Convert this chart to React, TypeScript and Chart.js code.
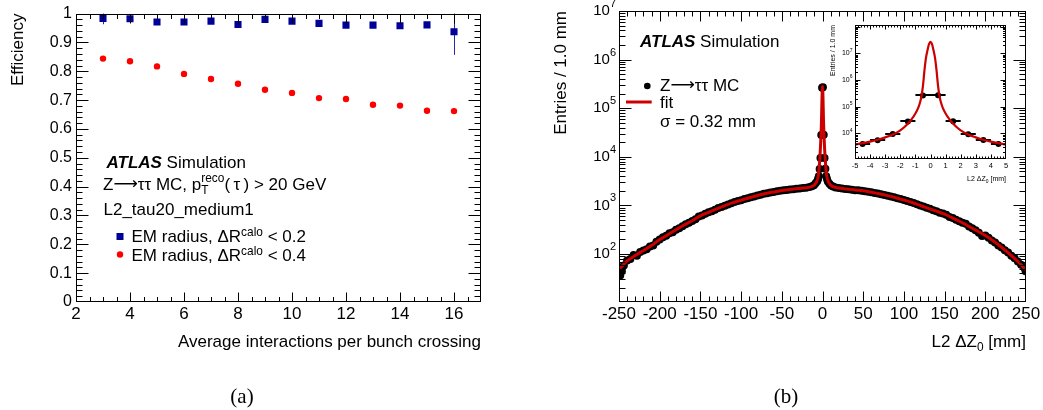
import React, { useEffect, useRef } from 'react';
import { Chart, registerables } from 'chart.js';

Chart.register(...registerables);

const SANS = "'Liberation Sans', Arial, Helvetica, sans-serif";
const ARROWFONT = "'DejaVu Sans', 'Liberation Sans', sans-serif";
const SERIF = "'Liberation Serif', 'Times New Roman', serif";

// ---------------- Panel (a): efficiency vs pile-up ----------------
const muBins = [3, 4, 5, 6, 7, 8, 9, 10, 11, 12, 13, 14, 15, 16];
const effDR02 = [0.983, 0.982, 0.971, 0.971, 0.974, 0.962, 0.980, 0.974, 0.966, 0.960, 0.960, 0.958, 0.961, 0.937];
const errDR02 = [0.02, 0.004, 0.004, 0.004, 0.004, 0.005, 0.004, 0.005, 0.005, 0.006, 0.006, 0.007, 0.008, 0.08];
const effDR04 = [0.844, 0.835, 0.817, 0.791, 0.773, 0.757, 0.736, 0.725, 0.707, 0.704, 0.684, 0.681, 0.663, 0.662];
const errDR04 = [0.004, 0.003, 0.003, 0.003, 0.003, 0.003, 0.003, 0.004, 0.004, 0.004, 0.005, 0.006, 0.007, 0.009];
const muMajorTicks = [2, 4, 6, 8, 10, 12, 14, 16];
const effMajorTicks = [0, 0.1, 0.2, 0.3, 0.4, 0.5, 0.6, 0.7, 0.8, 0.9, 1];

// ---------------- Panel (b): L2 delta Z0 ----------------
const dzX = [
  -249.5, -248.5, -246.5,
  -244, -240, -236, -232, -228, -224, -220, -216, -212, -208,
  -204, -200, -196, -192, -188, -184, -180, -176, -172, -168,
  -164, -160, -156, -152, -148, -144, -140, -136, -132, -128,
  -124, -120, -116, -112, -108, -104, -100, -96, -92, -88,
  -84, -80, -76, -72, -68, -64, -60, -56, -52, -48,
  -44, -40, -36, -32, -28, -24, -20, -16,
  -13, -10.5, -8.5, -6.5, -5.5,
  -4.5, -3.5, -2.5, -1.5, -0.5, 0.5, 1.5, 2.5, 3.5, 4.5,
  5.5, 6.5, 8.5, 10.5, 13,
  16, 20, 24, 28, 32, 36, 40, 44, 48, 52,
  56, 60, 64, 68, 72, 76, 80, 84, 88, 92,
  96, 100, 104, 108, 112, 116, 120, 124, 128, 132,
  136, 140, 144, 148, 152, 156, 160, 164, 168, 172,
  176, 180, 184, 188, 192, 196, 200, 204, 208, 212,
  216, 220, 224, 228, 232, 236, 240, 244, 248,
  249.5,
];
const dzEntries = [
  53, 36, 44,
  58, 74, 79, 96, 92, 110, 118, 126, 142, 150,
  178, 200, 222, 238, 268, 282, 316, 340, 372, 410,
  440, 480, 520, 590, 620, 670, 720, 760, 815, 880,
  930, 990, 1040, 1110, 1170, 1230, 1280, 1350, 1400, 1480,
  1530, 1600, 1660, 1730, 1780, 1840, 1880, 1950, 2000, 2040,
  2080, 2120, 2150, 2200, 2230, 2270, 2320, 2380,
  2480, 2600, 2850, 3150, 3500,
  4000, 5600, 9500, 28000, 265000, 270000, 28500, 9400, 5700, 4000,
  3500, 3100, 2800, 2560, 2450,
  2350, 2280, 2220, 2180, 2140, 2100, 2060, 2040, 2000, 1960,
  1900, 1860, 1800, 1760, 1700, 1640, 1580, 1530, 1470, 1410,
  1350, 1290, 1240, 1180, 1120, 1060, 1000, 950, 900, 850,
  800, 760, 710, 680, 640, 580, 550, 510, 470, 440,
  420, 370, 340, 310, 275, 235, 240, 215, 190, 172,
  150, 136, 120, 108, 92, 82, 70, 60, 52,
  44,
];
const fitX = [
  -250, -240, -230, -220, -210, -200, -190, -180, -170, -160, -150, -140, -130, -120, -110,
  -100, -90, -80, -70, -60, -50, -40, -30, -20, -12, -8, -5, -3, -1.5, 0,
  1.5, 3, 5, 8, 12, 20, 30, 40, 50, 60, 70, 80, 90, 100,
  110, 120, 130, 140, 150, 160, 170, 180, 190, 200, 210, 220, 230, 240, 250,
];
const fitEntries = [
  48, 72, 93, 118, 150, 198, 250, 315, 395, 485, 610, 720, 850, 990, 1140,
  1280, 1440, 1600, 1760, 1890, 2020, 2120, 2220, 2320, 2500, 2900, 4300, 11000, 40000, 280000,
  40000, 11000, 4300, 2900, 2480, 2280, 2180, 2080, 2000, 1860, 1740, 1590, 1440, 1290,
  1150, 1000, 870, 760, 660, 550, 455, 370, 300, 240, 185, 138, 100, 70, 47,
];
const insetFitX = [
  -5, -4.5, -4, -3.5, -3, -2.5, -2, -1.5, -1.25, -1, -0.8, -0.7, -0.6, -0.5, -0.4, -0.3, -0.2, -0.1, 0,
  0.1, 0.2, 0.3, 0.4, 0.5, 0.6, 0.7, 0.8, 1, 1.25, 1.5, 2, 2.5, 3, 3.5, 4, 4.5, 5,
];
const insetFitEntries = [
  3800, 4300, 4900, 5800, 7100, 9100, 13000, 23000, 34000, 56000, 95000, 140000, 240000, 600000, 2300000, 6800000, 13000000, 22000000, 27000000,
  22000000, 13000000, 6800000, 2300000, 600000, 240000, 140000, 95000, 56000, 34000, 23000, 13000, 9100, 7100, 5800, 4900, 4300, 3800,
];
const dzMajorTicks = [-250, -200, -150, -100, -50, 0, 50, 100, 150, 200, 250];
const dzDecades = [2, 3, 4, 5, 6, 7];
const insetMajorTicks = [-5, -4, -3, -2, -1, 0, 1, 2, 3, 4, 5];
const insetDecades = [4, 5, 6, 7];

// ---------------- helpers ----------------
function steps(a: number, b: number, st: number) {
  const r: number[] = [];
  for (let v = a; v <= b + 1e-9; v += st) r.push(+v.toFixed(6));
  return r;
}
function logMinor(d0: number, d1: number) {
  const r: number[] = [];
  for (let d = d0; d <= d1; d++) for (let k = 2; k <= 9; k++) r.push(k * Math.pow(10, d));
  return r;
}

type Seg = { t: string; s?: string; dy?: number; fam?: string };
function rich(ctx: any, x: number, y: number, segs: Seg[], size: number, color = '#000', draw = true) {
  ctx.save();
  ctx.fillStyle = color;
  ctx.textBaseline = 'middle';
  ctx.textAlign = 'left';
  let cx = x;
  for (const g of segs) {
    let fs = size;
    let dy = 0;
    let style = '';
    if (g.s === 'bi') style = 'italic bold ';
    if (g.s === 'sup') { fs = size * 0.7; dy = -size * 0.33; }
    if (g.s === 'sub' || g.s === 'subStay') { fs = size * 0.7; dy = size * 0.3; }
    if (g.dy !== undefined) dy = g.dy;
    ctx.font = `${style}${fs}px ${g.fam || SANS}`;
    if (draw) ctx.fillText(g.t, cx, y + dy);
    if (g.s !== 'subStay') cx += ctx.measureText(g.t).width;
  }
  ctx.restore();
  return cx - x;
}

type TickSpec = { major: number[]; minor: number[]; majLen: number; minLen: number };
function frameTicks(id: string, tx: TickSpec, ty: TickSpec) {
  return {
    id,
    afterDatasetsDraw(chart: any) {
      const { ctx, chartArea: a } = chart;
      const sx = chart.scales.x;
      const sy = chart.scales.y;
      const L = Math.round(a.left) + 0.5;
      const R = Math.round(a.right) - 0.5;
      const T = Math.round(a.top) + 0.5;
      const B = Math.round(a.bottom) - 0.5;
      ctx.save();
      ctx.strokeStyle = '#000';
      ctx.lineWidth = 1;
      ctx.beginPath();
      const vx = (v: number, len: number) => {
        const p = Math.round(sx.getPixelForValue(v)) + 0.5;
        if (p < L - 0.6 || p > R + 0.6) return;
        ctx.moveTo(p, B); ctx.lineTo(p, B - len);
        ctx.moveTo(p, T); ctx.lineTo(p, T + len);
      };
      const vy = (v: number, len: number) => {
        const p = Math.round(sy.getPixelForValue(v)) + 0.5;
        if (p < T - 0.6 || p > B + 0.6) return;
        ctx.moveTo(L, p); ctx.lineTo(L + len, p);
        ctx.moveTo(R, p); ctx.lineTo(R - len, p);
      };
      tx.major.forEach((v) => vx(v, tx.majLen));
      tx.minor.forEach((v) => vx(v, tx.minLen));
      ty.major.forEach((v) => vy(v, ty.majLen));
      ty.minor.forEach((v) => vy(v, ty.minLen));
      ctx.stroke();
      ctx.strokeRect(L, T, R - L, B - T);
      ctx.restore();
    },
  };
}

const baseOpts = {
  animation: false,
  responsive: false,
  maintainAspectRatio: false,
  events: [],
  plugins: { legend: { display: false }, tooltip: { enabled: false } },
};

function hiddenGrid() {
  return { display: false, drawTicks: false };
}

const zttSegs: Seg[] = [{ t: 'Z' }, { t: '⟶', fam: ARROWFONT }, { t: 'ττ MC' }];

// ---------------- Chart (a) ----------------
function makeA(canvas: HTMLCanvasElement) {
  const errPlugin = {
    id: 'errA',
    beforeDatasetsDraw(chart: any) {
      const { ctx, chartArea: a } = chart;
      const sx = chart.scales.x;
      const sy = chart.scales.y;
      ctx.save();
      ctx.beginPath();
      ctx.rect(a.left, a.top, a.right - a.left, a.bottom - a.top);
      ctx.clip();
      ctx.lineWidth = 1;
      const draw = (vals: number[], errs: number[], col: string) => {
        ctx.strokeStyle = col;
        ctx.beginPath();
        muBins.forEach((m, i) => {
          const px = Math.round(sx.getPixelForValue(m)) + 0.5;
          ctx.moveTo(px, sy.getPixelForValue(vals[i] - errs[i]));
          ctx.lineTo(px, sy.getPixelForValue(vals[i] + errs[i]));
        });
        ctx.stroke();
      };
      draw(effDR02, errDR02, '#2a2aa0');
      draw(effDR04, errDR04, '#ff0000');
      ctx.restore();
    },
  };
  const textPlugin = {
    id: 'textA',
    afterDraw(chart: any) {
      const ctx = chart.ctx;
      const S = 17;
      rich(ctx, 106.5, 163, [{ t: 'ATLAS', s: 'bi' }, { t: ' Simulation' }], S);
      rich(ctx, 103, 185, [
        ...zttSegs,
        { t: ', p' },
        { t: 'T', s: 'subStay', dy: 5.5 },
        { t: 'reco', s: 'sup', dy: -6.5 },
        { t: '(\u2009τ\u2009)' },
        { t: ' > 20 GeV' },
      ], S);
      rich(ctx, 103.5, 210, [{ t: 'L2_tau20_medium1' }], S);
      ctx.save();
      ctx.fillStyle = '#000099';
      ctx.fillRect(116.5, 233, 7, 7);
      ctx.fillStyle = '#ff0000';
      ctx.beginPath();
      ctx.arc(120, 254.5, 3.2, 0, Math.PI * 2);
      ctx.fill();
      ctx.restore();
      rich(ctx, 131.5, 237.5, [{ t: 'EM radius, ΔR' }, { t: 'calo', s: 'sup', dy: -5 }, { t: ' < 0.2' }], S);
      rich(ctx, 131.5, 256.5, [{ t: 'EM radius, ΔR' }, { t: 'calo', s: 'sup', dy: -5 }, { t: ' < 0.4' }], S);
      ctx.save();
      ctx.fillStyle = '#000';
      ctx.font = `21px ${SERIF}`;
      ctx.textAlign = 'center';
      ctx.textBaseline = 'middle';
      ctx.fillText('(a)', 242, 397);
      ctx.restore();
    },
  };
  return new Chart(canvas, {
    type: 'scatter',
    data: {
      datasets: [
        {
          data: muBins.map((m, i) => ({ x: m, y: effDR02[i] })),
          pointStyle: 'rect',
          pointRadius: 5,
          backgroundColor: '#000099',
          borderWidth: 0,
        },
        {
          data: muBins.map((m, i) => ({ x: m, y: effDR04[i] })),
          pointStyle: 'circle',
          pointRadius: 3.2,
          backgroundColor: '#ff0000',
          borderWidth: 0,
        },
      ],
    },
    options: {
      ...baseOpts,
      layout: { padding: { top: 11, right: 59, left: 0, bottom: 0 } },
      scales: {
        x: {
          type: 'linear',
          min: 2,
          max: 17,
          grid: hiddenGrid(),
          border: { display: false },
          ticks: {
            stepSize: 2,
            includeBounds: false,
            autoSkip: false,
            maxRotation: 0,
            padding: 2,
            color: '#000',
            font: { family: SANS, size: 17 },
          },
          title: {
            display: true,
            text: 'Average interactions per bunch crossing',
            align: 'end',
            color: '#000',
            font: { family: SANS, size: 17 },
            padding: { top: 0, bottom: 57 },
          },
          afterFit: (s: any) => { s.height = 108; },
        },
        y: {
          type: 'linear',
          min: 0,
          max: 1,
          grid: hiddenGrid(),
          border: { display: false },
          ticks: {
            stepSize: 0.1,
            autoSkip: false,
            padding: 4,
            color: '#000',
            font: { family: SANS, size: 16 },
            callback: (v: any) => String(Math.round(Number(v) * 10) / 10),
          },
          title: {
            display: true,
            text: 'Efficiency',
            align: 'end',
            color: '#000',
            font: { family: SANS, size: 17 },
            padding: { top: 8, bottom: 0 },
          },
          afterFit: (s: any) => { s.width = 76; },
        },
      },
    },
    plugins: [
      errPlugin,
      frameTicks('frameA',
        { major: muMajorTicks, minor: steps(2, 17, 0.5), majLen: 9, minLen: 4.5 },
        { major: effMajorTicks, minor: steps(0, 1, 0.02), majLen: 12, minLen: 6 }),
      textPlugin,
    ],
  } as any);
}

// ---------------- Chart (b) ----------------
function makeB(canvas: HTMLCanvasElement) {
  const textPlugin = {
    id: 'textB',
    afterDraw(chart: any) {
      const { ctx, chartArea: a } = chart;
      const sy = chart.scales.y;
      const S = 17;
      rich(ctx, 100, 42, [{ t: 'ATLAS', s: 'bi' }, { t: ' Simulation' }], S);
      ctx.save();
      ctx.fillStyle = '#000';
      ctx.beginPath();
      ctx.arc(107.3, 86, 3.3, 0, Math.PI * 2);
      ctx.fill();
      ctx.strokeStyle = '#cc0000';
      ctx.lineWidth = 3;
      ctx.beginPath();
      ctx.moveTo(86, 102);
      ctx.lineTo(111.7, 102);
      ctx.stroke();
      ctx.restore();
      rich(ctx, 120, 86, zttSegs, S);
      rich(ctx, 120, 103.5, [{ t: 'fit' }], S);
      rich(ctx, 120, 122, [{ t: 'σ = 0.32 mm' }], S);
      // x-axis title, right aligned
      const xt: Seg[] = [{ t: 'L2 ΔZ' }, { t: '0', s: 'sub', dy: 6 }, { t: ' [mm]' }];
      const w = rich(ctx, 0, 0, xt, S, '#000', false);
      rich(ctx, a.right - w, 342, xt, S);
      // log-axis decade labels
      ctx.save();
      ctx.fillStyle = '#000';
      ctx.textBaseline = 'middle';
      ctx.textAlign = 'left';
      dzDecades.forEach((d) => {
        const p = sy.getPixelForValue(Math.pow(10, d));
        ctx.font = `11px ${SANS}`;
        const w2 = ctx.measureText(String(d)).width;
        ctx.font = `15px ${SANS}`;
        const w1 = ctx.measureText('10').width;
        const right = a.left - 3;
        ctx.fillText('10', right - w2 - w1, p);
        ctx.font = `11px ${SANS}`;
        ctx.fillText(String(d), right - w2, p - 7);
      });
      ctx.font = `21px ${SERIF}`;
      ctx.textAlign = 'center';
      ctx.fillText('(b)', 246, 397);
      ctx.restore();
    },
  };
  return new Chart(canvas, {
    type: 'scatter',
    data: {
      datasets: [
        {
          data: fitX.map((x, i) => ({ x, y: fitEntries[i] })),
          showLine: true,
          pointRadius: 0,
          borderColor: '#cc0000',
          borderWidth: 3,
          cubicInterpolationMode: 'monotone',
        },
        {
          data: dzX.map((x, i) => ({ x, y: dzEntries[i] })),
          pointStyle: 'circle',
          pointRadius: 4,
          backgroundColor: '#000',
          borderWidth: 0,
        },
      ],
    },
    options: {
      ...baseOpts,
      layout: { padding: { top: 11, right: 17, left: 0, bottom: 0 } },
      scales: {
        x: {
          type: 'linear',
          min: -250,
          max: 250,
          grid: hiddenGrid(),
          border: { display: false },
          ticks: {
            stepSize: 50,
            autoSkip: false,
            maxRotation: 0,
            padding: 2,
            color: '#000',
            font: { family: SANS, size: 17 },
          },
          afterFit: (s: any) => { s.height = 108; },
        },
        y: {
          type: 'logarithmic',
          min: 10.3,
          max: 1e7,
          grid: hiddenGrid(),
          border: { display: false },
          ticks: { display: false },
          title: {
            display: true,
            text: 'Entries / 1.0 mm',
            align: 'end',
            color: '#000',
            font: { family: SANS, size: 17 },
            padding: { top: 11, bottom: 0 },
          },
          afterFit: (s: any) => { s.width = 79; },
        },
      },
    },
    plugins: [
      frameTicks('frameB',
        { major: dzMajorTicks, minor: steps(-250, 250, 10), majLen: 10, minLen: 5 },
        { major: dzDecades.map((d) => Math.pow(10, d)), minor: logMinor(1, 6), majLen: 12, minLen: 6 }),
      textPlugin,
    ],
  } as any);
}

// ---------------- Inset ----------------
function makeInset(canvas: HTMLCanvasElement) {
  const inX: number[] = [];
  const inN: number[] = [];
  dzX.forEach((x, i) => { if (Math.abs(x) < 5) { inX.push(x); inN.push(dzEntries[i]); } });
  const errPlugin = {
    id: 'errIn',
    beforeDatasetsDraw(chart: any) {
      const { ctx } = chart;
      const sx = chart.scales.x;
      const sy = chart.scales.y;
      ctx.save();
      ctx.strokeStyle = '#000';
      ctx.lineWidth = 2;
      ctx.beginPath();
      inX.forEach((x, i) => {
        const py = Math.round(sy.getPixelForValue(inN[i]));
        ctx.moveTo(sx.getPixelForValue(x - 0.5), py);
        ctx.lineTo(sx.getPixelForValue(x + 0.5), py);
      });
      ctx.stroke();
      ctx.restore();
    },
  };
  const textPlugin = {
    id: 'textIn',
    afterDraw(chart: any) {
      const { ctx, chartArea: a } = chart;
      const sy = chart.scales.y;
      const xt: Seg[] = [{ t: 'L2 ΔZ' }, { t: '0', s: 'sub', dy: 2.5 }, { t: ' [mm]' }];
      const w = rich(ctx, 0, 0, xt, 7, '#000', false);
      rich(ctx, a.right - w, 169, xt, 7);
      ctx.save();
      ctx.fillStyle = '#000';
      ctx.textBaseline = 'middle';
      ctx.textAlign = 'left';
      insetDecades.forEach((d) => {
        const p = sy.getPixelForValue(Math.pow(10, d));
        ctx.font = `5px ${SANS}`;
        const w2 = ctx.measureText(String(d)).width;
        ctx.font = `7px ${SANS}`;
        const w1 = ctx.measureText('10').width;
        const right = a.left - 2.5;
        ctx.fillText('10', right - w2 - w1, p);
        ctx.font = `5px ${SANS}`;
        ctx.fillText(String(d), right - w2, p - 3);
      });
      ctx.restore();
    },
  };
  return new Chart(canvas, {
    type: 'scatter',
    data: {
      datasets: [
        {
          data: insetFitX.map((x, i) => ({ x, y: insetFitEntries[i] })),
          showLine: true,
          pointRadius: 0,
          borderColor: '#cc0000',
          borderWidth: 2.2,
          cubicInterpolationMode: 'monotone',
        },
        {
          data: inX.map((x, i) => ({ x, y: inN[i] })),
          pointStyle: 'circle',
          pointRadius: 3,
          backgroundColor: '#000',
          borderWidth: 0,
        },
      ],
    },
    options: {
      ...baseOpts,
      layout: { padding: { top: 15, right: 24, left: 0, bottom: 0 } },
      scales: {
        x: {
          type: 'linear',
          min: -5,
          max: 5,
          grid: hiddenGrid(),
          border: { display: false },
          ticks: {
            stepSize: 1,
            autoSkip: false,
            maxRotation: 0,
            padding: 2,
            color: '#000',
            font: { family: SANS, size: 7.5 },
          },
          afterFit: (s: any) => { s.height = 31; },
        },
        y: {
          type: 'logarithmic',
          min: 1100,
          max: 1.15e8,
          grid: hiddenGrid(),
          border: { display: false },
          ticks: { display: false },
          title: {
            display: true,
            text: 'Entries / 1.0 mm',
            align: 'end',
            color: '#000',
            font: { family: SANS, size: 7 },
            padding: { top: 9, bottom: 0 },
          },
          afterFit: (s: any) => { s.width = 35; },
        },
      },
    },
    plugins: [
      errPlugin,
      frameTicks('frameIn',
        { major: insetMajorTicks, minor: steps(-5, 5, 0.2), majLen: 4, minLen: 2 },
        { major: [1e4, 1e5, 1e6, 1e7, 1e8], minor: logMinor(3, 7), majLen: 5, minLen: 2.5 }),
      textPlugin,
    ],
  } as any);
}

export default function App() {
  const aRef = useRef<HTMLCanvasElement>(null);
  const bRef = useRef<HTMLCanvasElement>(null);
  const cRef = useRef<HTMLCanvasElement>(null);
  useEffect(() => {
    const charts = [makeA(aRef.current!), makeB(bRef.current!), makeInset(cRef.current!)];
    return () => charts.forEach((c) => c.destroy());
  }, []);
  return (
    <div style={{ position: 'absolute', left: 0, top: 0, width: 1043, height: 410, background: '#fff' }}>
      <canvas ref={aRef} width={540} height={410} style={{ position: 'absolute', left: 0, top: 0 }} />
      <canvas ref={bRef} width={503} height={410} style={{ position: 'absolute', left: 540, top: 0 }} />
      <canvas ref={cRef} width={210} height={180} style={{ position: 'absolute', left: 820, top: 10 }} />
    </div>
  );
}
